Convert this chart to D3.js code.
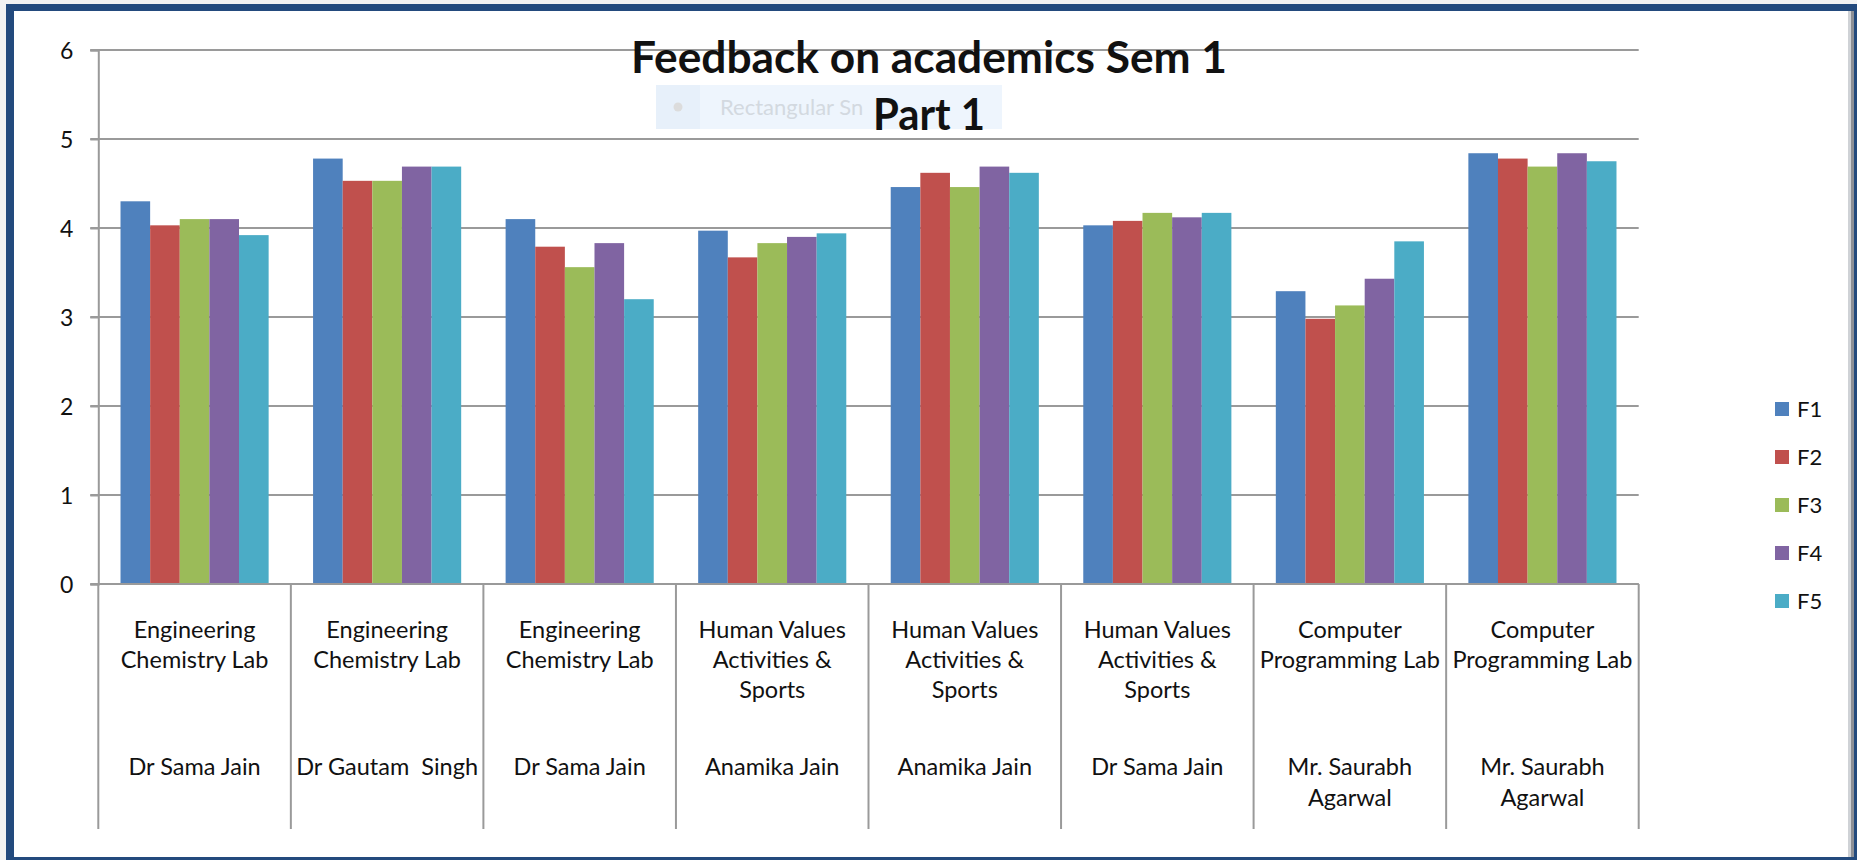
<!DOCTYPE html>
<html>
<head>
<meta charset="utf-8">
<script src="https://cdn.jsdelivr.net/npm/d3@7"></script>
<style>
	html, body { margin: 0; padding: 0; background: #fff; }
	svg { display: block; }
	text { font-family: Lato, "Open Sans", sans-serif; fill: #111; }
</style>
</head>
<body>
<div id="chart"></div>
<script>
// data
var categories = ["c1", "c2", "c3", "c4", "c5", "c6", "c7", "c8"];
var subjectLines = [
	["Engineering", "Chemistry Lab"],
	["Engineering", "Chemistry Lab"],
	["Engineering", "Chemistry Lab"],
	["Human Values", "Activities &", "Sports"],
	["Human Values", "Activities &", "Sports"],
	["Human Values", "Activities &", "Sports"],
	["Computer", "Programming Lab"],
	["Computer", "Programming Lab"]
];
var teacherLines = [
	["Dr Sama Jain"],
	["Dr Gautam  Singh"],
	["Dr Sama Jain"],
	["Anamika Jain"],
	["Anamika Jain"],
	["Dr Sama Jain"],
	["Mr. Saurabh", "Agarwal"],
	["Mr. Saurabh", "Agarwal"]
];
var seriesNames = ["F1", "F2", "F3", "F4", "F5"];
var F1 = [4.30, 4.78, 4.10, 3.97, 4.46, 4.03, 3.29, 4.84];
var F2 = [4.03, 4.53, 3.79, 3.67, 4.62, 4.08, 2.98, 4.78];
var F3 = [4.10, 4.53, 3.56, 3.83, 4.46, 4.17, 3.13, 4.69];
var F4 = [4.10, 4.69, 3.83, 3.90, 4.69, 4.12, 3.43, 4.84];
var F5 = [3.92, 4.69, 3.20, 3.94, 4.62, 4.17, 3.85, 4.75];
var seriesValues = [F1, F2, F3, F4, F5];
var seriesColors = ["#4F81BD", "#C0504D", "#9BBB59", "#8064A2", "#4BACC6"];
var yTicks = [0, 1, 2, 3, 4, 5, 6];
var titleLines = ["Feedback on academics Sem 1", "Part 1"];

var width = 1857, height = 860;
var svg = d3.select("#chart").append("svg")
	.attr("width", width)
	.attr("height", height);

// frame
svg.append("rect").attr("x", 0).attr("y", 0).attr("width", width).attr("height", height).attr("fill", "#f2f2f2");
svg.append("rect").attr("x", 6).attr("y", 4).attr("width", width - 6).attr("height", height - 4).attr("fill", "#234A7D");
svg.append("rect").attr("x", 14).attr("y", 11).attr("width", 1834).attr("height", 846).attr("fill", "#fff");
svg.append("rect").attr("x", 1848).attr("y", 11).attr("width", 3).attr("height", 846).attr("fill", "#cfd2d6");
svg.append("rect").attr("x", 1851).attr("y", 11).attr("width", 3).attr("height", 846).attr("fill", "#8d9096");

var plot = { left: 98.3, right: 1638.7, top: 50, bottom: 584 };

var y = d3.scaleLinear().domain([0, 6]).range([plot.bottom, plot.top]);
var x0 = d3.scaleBand().domain(categories).range([plot.left, plot.right]).padding(0);
var x1 = d3.scaleBand().domain(seriesNames).range([0, x0.bandwidth()]).paddingInner(0).paddingOuter(0.75);

// gridlines
svg.append("g").attr("class", "grid")
	.selectAll("line").data(yTicks).enter().append("line")
	.attr("x1", plot.left - 8).attr("x2", plot.right)
	.attr("y1", function(d) { return y(d); })
	.attr("y2", function(d) { return y(d); })
	.attr("stroke", "#9a9a9a").attr("stroke-width", 2);

// y axis
var yAxis = svg.append("g")
	.attr("transform", "translate(" + plot.left + ",0)")
	.call(d3.axisLeft(y).tickValues(yTicks).tickSize(8).tickPadding(17).tickFormat(d3.format("d")));
yAxis.select(".domain").attr("stroke", "#9a9a9a").attr("stroke-width", 2);
yAxis.selectAll(".tick line").attr("stroke", "#9a9a9a").attr("stroke-width", 2);
yAxis.selectAll(".tick text")
	.style("font-family", "Lato, sans-serif")
	.style("font-size", "23px")
	.attr("fill", "#111")
	.attr("dy", "0.36em");

// bars
var groups = svg.append("g").attr("class", "bars")
	.selectAll("g").data(categories).enter().append("g")
	.attr("transform", function(d) { return "translate(" + x0(d) + ",0)"; });

groups.selectAll("rect")
	.data(function(d, i) {
		return seriesNames.map(function(s, j) { return { s: s, v: seriesValues[j][i], c: seriesColors[j] }; });
	})
	.enter().append("rect")
	.attr("x", function(d) { return x1(d.s); })
	.attr("width", x1.bandwidth())
	.attr("y", function(d) { return y(d.v); })
	.attr("height", function(d) { return y(0) - y(d.v); })
	.attr("fill", function(d) { return d.c; });

// category dividers below the axis
var bounds = categories.map(function(c) { return x0(c); }).concat([plot.right]);
svg.append("g").selectAll("line").data(bounds).enter().append("line")
	.attr("x1", function(d) { return d; }).attr("x2", function(d) { return d; })
	.attr("y1", plot.bottom).attr("y2", 829)
	.attr("stroke", "#9a9a9a").attr("stroke-width", 2);
svg.append("line")
	.attr("x1", plot.left).attr("x2", plot.right)
	.attr("y1", plot.bottom).attr("y2", plot.bottom)
	.attr("stroke", "#9a9a9a").attr("stroke-width", 2);

// category labels
var labels = svg.append("g").attr("class", "xlabels");
categories.forEach(function(c, i) {
	var cx = x0(c) + x0.bandwidth() / 2;
	subjectLines[i].forEach(function(t, k) {
		labels.append("text")
			.attr("x", cx).attr("y", 638 + k * 30)
			.attr("text-anchor", "middle")
			.style("font-size", "23.5px")
			.text(t);
	});
	teacherLines[i].forEach(function(t, k) {
		labels.append("text")
			.attr("x", cx).attr("y", 775 + k * 31)
			.attr("text-anchor", "middle")
			.style("font-size", "23.5px")
			.style("white-space", "pre")
			.text(t);
	});
});

// legend
var legend = svg.append("g").attr("class", "legend")
	.selectAll("g").data(seriesNames).enter().append("g")
	.attr("transform", function(d, i) { return "translate(1775," + (402 + i * 48) + ")"; });
legend.append("rect").attr("width", 14).attr("height", 14)
	.attr("fill", function(d, i) { return seriesColors[i]; });
legend.append("text").attr("x", 22).attr("y", 15)
	.style("font-size", "22px")
	.text(function(d) { return d; });

// faded leftover box behind the title
var ghost = svg.append("g");
ghost.append("rect").attr("x", 656).attr("y", 85).attr("width", 346).attr("height", 44).attr("fill", "#eef5fd");
ghost.append("rect").attr("x", 656).attr("y", 85).attr("width", 44).attr("height", 44).attr("fill", "#e7f0fa");
ghost.append("circle").attr("cx", 678).attr("cy", 107).attr("r", 4.5).attr("fill", "#dcdcdc");
ghost.append("text").attr("x", 720).attr("y", 115)
	.style("font-size", "22px").style("fill", "#d3d9e0")
	.text("Rectangular Sn");

// title
svg.append("text").attr("x", 929).attr("y", 73)
	.attr("text-anchor", "middle")
	.style("font-size", "43px").style("font-weight", "bold")
	.attr("textLength", 596).attr("lengthAdjust", "spacingAndGlyphs")
	.text(titleLines[0]);
svg.append("text").attr("x", 929).attr("y", 130)
	.attr("text-anchor", "middle")
	.style("font-size", "43px").style("font-weight", "bold")
	.attr("textLength", 112).attr("lengthAdjust", "spacingAndGlyphs")
	.text(titleLines[1]);
</script>
</body>
</html>
